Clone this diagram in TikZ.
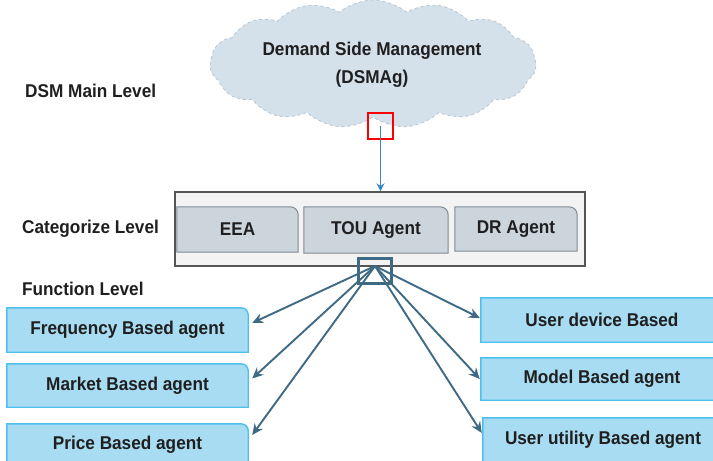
\documentclass[tikz,border=0pt]{standalone}
\usepackage{fontspec}
\setmainfont{Liberation Sans}[FakeStretch=0.93]
\usetikzlibrary{shapes.symbols,shapes.misc,arrows.meta}

\definecolor{cloudfill}{HTML}{D5E1EA}
\definecolor{cloudline}{HTML}{B4C6D4}
\definecolor{catfill}{HTML}{F3F3F3}
\definecolor{catline}{HTML}{555555}
\definecolor{agentfill}{HTML}{CDD5DC}
\definecolor{agentline}{HTML}{7F8B94}
\definecolor{funcfill}{HTML}{A8DCF3}
\definecolor{funcline}{HTML}{4EC0EE}
\definecolor{linkcol}{HTML}{3E6A85}
\definecolor{downcol}{HTML}{3A86C8}

\tikzset{
  txt/.style={font=\fontsize{18.5}{22}\selectfont\bfseries, text=black!88},
  levellabel/.style={txt, anchor=west, inner sep=0pt},
  agentbox/.style={txt, inner sep=0pt},
  funcbox/.style={txt, inner sep=0pt},
  link/.style={draw=linkcol, line width=1.9pt, -{Stealth[length=11pt,width=10pt]}},
}

\begin{document}
\begin{tikzpicture}[x=1pt, y=-1pt]
\useasboundingbox (0,0) rectangle (713,461);

% top level cloud
\node[cloud, cloud puffs=15, cloud puff arc=80, aspect=2.8,
      fill=cloudfill, draw=cloudline, dashed, line width=0.8pt,
      minimum width=326pt, minimum height=128pt, inner sep=0pt]
  (dsm) at (373,64) {};
\node[txt, align=center, font=\fontsize{18.5}{28}\selectfont\bfseries]
  (dsmtxt) at (372,65) {Demand Side Management\\(DSMAg)};

% level captions
\node[levellabel] (lmain) at (25,91) {DSM Main Level};
\node[levellabel] (lcat)  at (22,229) {Categorize Level};
\node[levellabel] (lfunc) at (22,289) {Function Level};

% categorize level container
\node[chamfered rectangle, chamfered rectangle corners=north east,
      chamfered rectangle xsep=9pt, chamfered rectangle ysep=9pt,
      fill=catfill, draw=catline, line width=1.3pt,
      minimum width=410pt, minimum height=74pt, inner sep=0pt]
  (cat) at (380,229) {};

% agents in the container
\node[agentbox, minimum width=121pt, minimum height=45pt] (eea) at (237.5,229.5) {EEA};
\node[agentbox, minimum width=144pt, minimum height=46pt] (tou) at (376,230) {TOU Agent};
\node[agentbox, minimum width=122pt, minimum height=44pt] (dr)  at (516,229) {DR Agent};
\foreach \n in {eea,tou,dr}{
  \draw[fill=agentfill, draw=agentline, line width=1pt]
    (\n.south west) -- (\n.north west) -- ([xshift=-8pt]\n.north east)
    arc[start angle=90, end angle=0, radius=8pt] -- (\n.south east) -- cycle;
}
\foreach \n/\t in {eea/EEA,tou/TOU Agent,dr/DR Agent}{
  \node[agentbox] at (\n.center) {\t};
}

% link from the cloud down to the container
\node[draw=red, line width=2pt, minimum width=25pt, minimum height=26pt, inner sep=0pt]
  (port) at (380.5,126) {};
\draw[draw=downcol, line width=1.8pt, -{Stealth[length=8pt,width=8pt]}]
  (port.center) -- (cat.north -| port.center);

% function level hub
\node[draw=linkcol, line width=2.6pt, minimum width=33pt, minimum height=25pt, inner sep=0pt]
  (hubbox) at (375,271) {};
\coordinate (hub) at (375,266);

% function level agents
\node[funcbox, minimum width=241pt, minimum height=44pt] (freq)   at (127.5,330) {};
\node[funcbox, minimum width=241pt, minimum height=43pt] (market) at (127.5,385.5) {};
\node[funcbox, minimum width=241pt, minimum height=46pt] (price)  at (127.5,447) {};
\node[funcbox, minimum width=242pt, minimum height=44pt] (udev)   at (602,320) {};
\node[funcbox, minimum width=242pt, minimum height=42pt] (model)  at (602,379) {};
\node[funcbox, minimum width=240pt, minimum height=44pt] (uutil)  at (603,440) {};
\foreach \n in {freq,market,price,udev,model,uutil}{
  \draw[fill=funcfill, draw=funcline, line width=1.4pt]
    (\n.south west) -- (\n.north west) -- ([xshift=-7pt]\n.north east)
    arc[start angle=90, end angle=0, radius=7pt] -- (\n.south east) -- cycle;
}
\node[funcbox] at (freq.center)   {Frequency Based agent};
\node[funcbox] at (market.center) {Market Based agent};
\node[funcbox] at ([yshift=2pt]price.center) {Price Based agent};
\node[funcbox] at (udev.center)   {User device Based};
\node[funcbox] at (model.center)  {Model Based agent};
\node[funcbox] at (uutil.center)  {User utility Based agent};

% fan of links from the hub
\draw[link] (hub) -- ([xshift=4pt,yshift=7pt]freq.east);
\draw[link] (hub) -- ([xshift=4pt,yshift=7pt]market.east);
\draw[link] (hub) -- ([xshift=4pt,yshift=12pt]price.east);
\draw[link] (hub) -- ([xshift=-1pt,yshift=2pt]udev.west);
\draw[link] (hub) -- ([xshift=-1pt]model.west);
\draw[link] (hub) -- ([xshift=-1pt,yshift=7pt]uutil.west);
\end{tikzpicture}
\end{document}
